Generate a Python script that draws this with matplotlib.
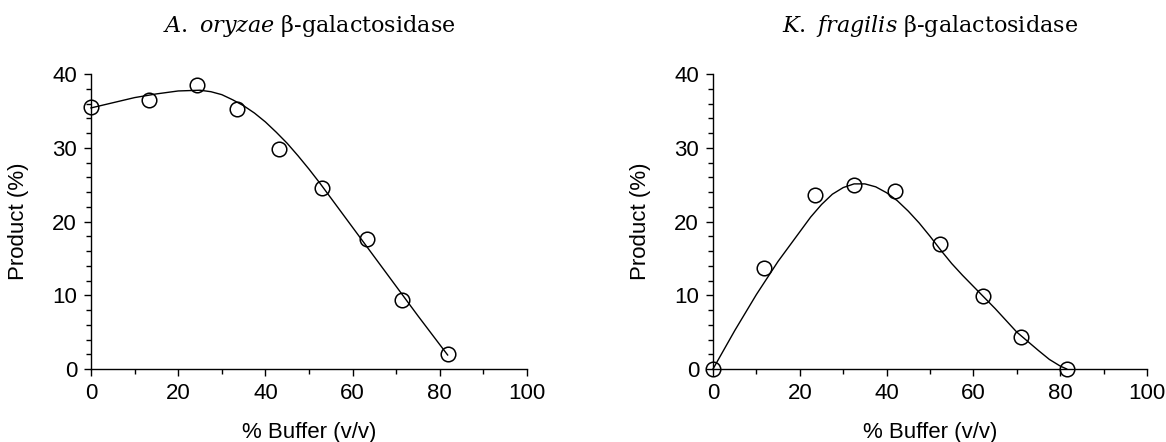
import matplotlib
matplotlib.use("Agg")
import matplotlib.pyplot as plt
from matplotlib.ticker import MultipleLocator

# ---- data ----
a_buffer = [0, 13.3, 24.4, 33.5, 43.2, 52.9, 63.2, 71.4, 81.8]
a_product = [35.5, 36.5, 38.5, 35.2, 29.8, 24.6, 17.6, 9.4, 2.0]
a_fit_x = [0, 5, 10, 15, 20, 25, 27.5, 30, 32.5, 35, 37.5, 40, 42.5, 45, 47.5, 50,
           52.5, 55, 60, 65, 70, 75, 80, 81.8]
a_fit_y = [35.4, 36.1, 36.8, 37.3, 37.7, 37.8, 37.6, 37.2, 36.5, 35.7, 34.7, 33.5,
           32.1, 30.6, 28.9, 27.1, 25.2, 23.2, 19.2, 15.2, 11.2, 7.2, 3.3, 1.9]

k_buffer = [0, 11.7, 23.4, 32.6, 42.0, 52.4, 62.3, 71.0, 81.5]
k_product = [0.0, 13.7, 23.6, 24.9, 24.2, 16.9, 9.9, 4.3, 0.0]
k_fit_x = [0, 5, 10, 15, 20, 22.5, 25, 27.5, 30, 32.5, 35, 37.5, 40, 42.5, 45, 47.5,
           50, 52.5, 55, 57.5, 60, 65, 70, 75, 77.5, 80, 81.5]
k_fit_y = [0.0, 5.2, 10.1, 14.6, 18.6, 20.6, 22.3, 23.7, 24.6, 25.1, 25.1, 24.7,
           23.9, 22.8, 21.4, 19.8, 18.0, 16.1, 14.3, 12.7, 11.2, 8.2, 5.0, 2.5, 1.3,
           0.4, 0.0]

x_ticks = [0, 20, 40, 60, 80, 100]
y_ticks = [0, 10, 20, 30, 40]
titles = [r"$\mathit{A.\ oryzae}$ β-galactosidase", r"$\mathit{K.\ fragilis}$ β-galactosidase"]
xlabel = "% Buffer (v/v)"
ylabel = "Product (%)"

plt.rcParams["font.family"] = ["Liberation Sans", "DejaVu Sans"]
plt.rcParams["mathtext.fontset"] = "custom"
plt.rcParams["mathtext.it"] = "DejaVu Serif:italic"
plt.rcParams["mathtext.rm"] = "DejaVu Serif"

fig = plt.figure(figsize=(11.66, 4.42), dpi=100)
ax1 = fig.add_axes([91 / 1166, 73 / 442, 436 / 1166, 295 / 442])
ax2 = fig.add_axes([713 / 1166, 73 / 442, 434 / 1166, 295 / 442])

panels = [
    (ax1, a_buffer, a_product, a_fit_x, a_fit_y, titles[0]),
    (ax2, k_buffer, k_product, k_fit_x, k_fit_y, titles[1]),
]

for ax, bx, by, fx, fy, title in panels:
    ax.plot(fx, fy, color="black", lw=1.0, clip_on=False, zorder=2)
    ax.plot(bx, by, linestyle="none", marker="o", markersize=10.5,
            markerfacecolor="none", markeredgecolor="black", markeredgewidth=1.1,
            clip_on=False, zorder=3)
    ax.set_xlim(0, 100)
    ax.set_ylim(0, 40)
    ax.set_xticks(x_ticks)
    ax.set_yticks(y_ticks)
    ax.xaxis.set_minor_locator(MultipleLocator(10))
    ax.yaxis.set_minor_locator(MultipleLocator(2))
    for side in ("top", "right"):
        ax.spines[side].set_visible(False)
    for side in ("left", "bottom"):
        ax.spines[side].set_linewidth(1.0)
    ax.tick_params(axis="both", which="major", labelsize=16, length=5, width=1.0,
                   direction="out", pad=5)
    ax.tick_params(axis="both", which="minor", length=3.5, width=1.0, direction="out")
    ax.set_xlabel(xlabel, fontsize=16, labelpad=13)
    ax.set_ylabel(ylabel, fontsize=16, labelpad=17)
    ax.set_title(title, fontsize=16, family="DejaVu Serif", pad=30)

fig.savefig("out.png", dpi=100)
